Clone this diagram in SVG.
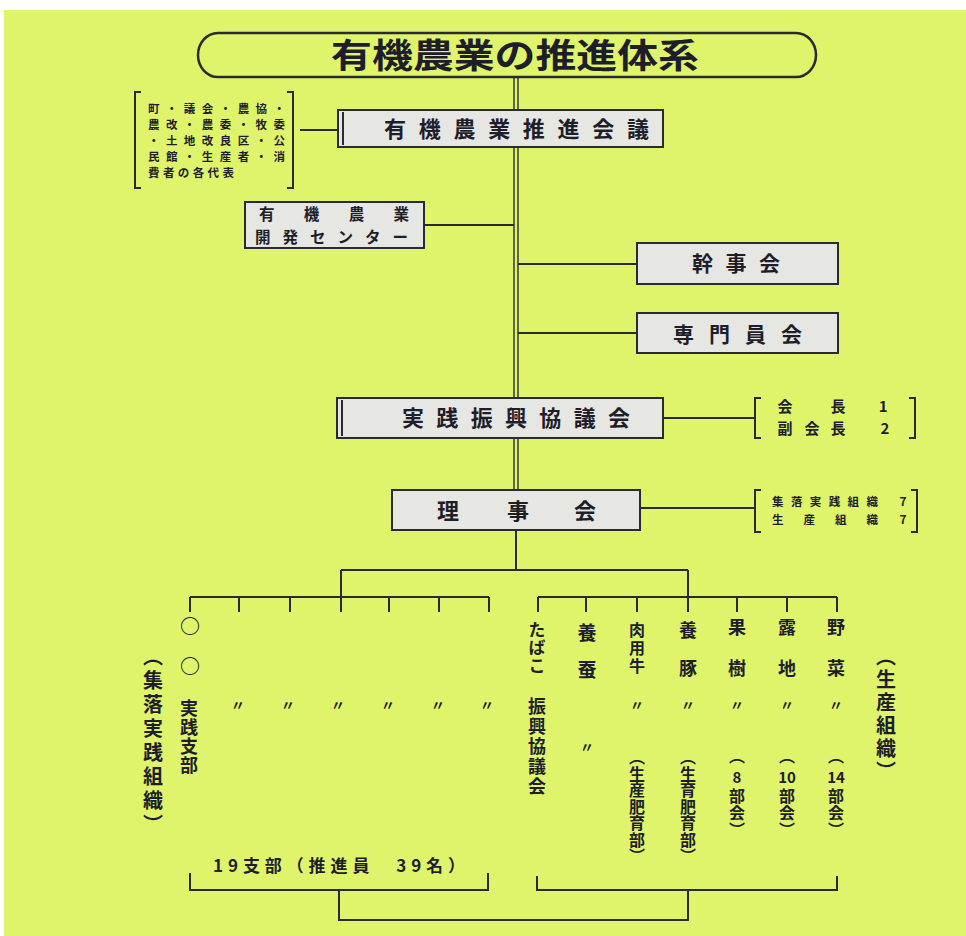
<svg xmlns="http://www.w3.org/2000/svg" width="966" height="936" viewBox="0 0 966 936">
<style>
.bg{fill:#dff46a}
.box{fill:#e6e6e2;stroke:#2a2a33;stroke-width:2}
.ln{fill:none;stroke:#2a2a33;stroke-width:2}
.thin{fill:none;stroke:#2a2a33;stroke-width:1.4}
.t{font-family:"Noto Sans CJK JP","Noto Sans CJK SC",sans-serif;font-weight:700;fill:#1e1e2a}
.c{text-anchor:middle}
.v{writing-mode:vertical-rl;text-anchor:start}
</style>
<rect x="0" y="0" width="966" height="936" fill="#ffffff"/>
<rect class="bg" x="4" y="10" width="962" height="926"/>

<g id="connectors">
  <line class="thin" x1="514" y1="77" x2="514" y2="110"/>
  <line class="thin" x1="518" y1="77" x2="518" y2="110"/>
  <line class="thin" x1="514" y1="147" x2="514" y2="398"/>
  <line class="thin" x1="518" y1="147" x2="518" y2="398"/>
  <line class="thin" x1="514" y1="438" x2="514" y2="490"/>
  <line class="thin" x1="518" y1="438" x2="518" y2="490"/>
  <line class="ln" x1="516" y1="530" x2="516" y2="570" stroke-width="2.5"/>
  <line class="ln" x1="300" y1="130" x2="338" y2="130"/>
  <line class="ln" x1="424" y1="225" x2="514" y2="225"/>
  <line class="ln" x1="518" y1="264" x2="637" y2="264"/>
  <line class="ln" x1="518" y1="333" x2="637" y2="333"/>
  <line class="ln" x1="663" y1="418" x2="755" y2="418"/>
  <line class="ln" x1="640" y1="508" x2="755" y2="508"/>
  <path class="ln" d="M341 570 H688 M341 570 V612 M688 570 V612"/>
  <path class="ln" d="M190 597 H489 M190 597 V612 M239 597 V612 M290 597 V612 M389 597 V612 M439 597 V612 M489 597 V612"/>
  <path class="ln" d="M538 597 H837 M538 597 V612 M586 597 V612 M637 597 V612 M737 597 V612 M787 597 V612 M837 597 V612"/>
  <path class="ln" d="M190 873 V890 H488 V873"/>
  <path class="ln" d="M537 876 V890 H837 V876"/>
  <path class="ln" d="M339 890 V920 H688 V890"/>
</g>

<g id="title">
  <rect x="198" y="33" width="618" height="44" rx="20" ry="22" fill="none" stroke="#2a2a33" stroke-width="2.5"/>
  <text class="t" x="331" y="68" font-size="34" textLength="368" lengthAdjust="spacingAndGlyphs">有機農業の推進体系</text>
</g>

<g id="representatives">
  <path class="ln" d="M141 92 H135 V188 H141 M287 92 H293 V188 H287"/>
  <text class="t" font-size="11.5">
    <tspan x="148" y="113" textLength="137" lengthAdjust="spacing">町・議会・農協・</tspan>
    <tspan x="148" y="129" textLength="137" lengthAdjust="spacing">農改・農委・牧委</tspan>
    <tspan x="148" y="145" textLength="137" lengthAdjust="spacing">・土地改良区・公</tspan>
    <tspan x="148" y="161" textLength="137" lengthAdjust="spacing">民館・生産者・消</tspan>
    <tspan x="148" y="177" textLength="86" lengthAdjust="spacing">費者の各代表</tspan>
  </text>
</g>

<g id="council">
  <rect class="box" x="338" y="110" width="325" height="37"/>
  <line class="ln" x1="343" y1="112" x2="343" y2="145"/>
  <text class="t" x="384" y="137" font-size="22" textLength="265" lengthAdjust="spacing">有機農業推進会議</text>
</g>

<g id="center">
  <rect class="box" x="245" y="202" width="179" height="46"/>
  <text class="t" x="259" y="220" font-size="15.5" textLength="150" lengthAdjust="spacing">有機農業</text>
  <text class="t" x="255" y="243" font-size="15.5" textLength="153" lengthAdjust="spacing">開発センター</text>
</g>

<g id="kanjikai">
  <rect class="box" x="637" y="243" width="201" height="41"/>
  <text class="t" x="692" y="271" font-size="21" textLength="88" lengthAdjust="spacing">幹事会</text>
</g>

<g id="senmon">
  <rect class="box" x="637" y="313" width="201" height="40"/>
  <text class="t" x="673" y="342" font-size="21" textLength="129" lengthAdjust="spacing">専門員会</text>
</g>

<g id="jissen">
  <rect class="box" x="337" y="398" width="326" height="40"/>
  <line class="ln" x1="342" y1="400" x2="342" y2="436"/>
  <text class="t" x="402" y="426" font-size="22" textLength="228" lengthAdjust="spacing">実践振興協議会</text>
</g>

<g id="officers">
  <path class="ln" d="M761 398 H755 V438 H761 M909 398 H915 V438 H909"/>
  <text class="t c" font-size="15">
    <tspan x="785" y="412">会</tspan><tspan x="838" y="412">長</tspan><tspan x="885" y="412">1</tspan>
    <tspan x="785" y="434">副</tspan><tspan x="812" y="434">会</tspan><tspan x="838" y="434">長</tspan><tspan x="885" y="434">2</tspan>
  </text>
</g>

<g id="rijikai">
  <rect class="box" x="392" y="490" width="248" height="40"/>
  <text class="t c" font-size="22"><tspan x="448" y="519">理</tspan><tspan x="518" y="519">事</tspan><tspan x="585" y="519">会</tspan></text>
</g>

<g id="members">
  <path class="ln" d="M761 490 H755 V532 H761 M911 490 H917 V532 H911"/>
  <text class="t" font-size="11.5">
    <tspan x="772" y="506" textLength="106" lengthAdjust="spacing">集落実践組織</tspan>
    <tspan x="772" y="524" textLength="106" lengthAdjust="spacing">生産組織</tspan>
  </text>
  <text class="t c" font-size="12"><tspan x="903" y="506">7</tspan><tspan x="903" y="524">7</tspan></text>
</g>

<g id="settlement-label">
  <text class="t v" x="153" y="646" font-size="20" letter-spacing="4">（集落実践組織）</text>
</g>

<g id="branches">
  <text class="t c" x="190" y="634" font-size="20" font-weight="400">○</text>
  <text class="t c" x="190" y="674" font-size="20" font-weight="400">○</text>
  <text class="t v" x="189" y="699" font-size="18" letter-spacing="1">実践支部</text>
  <text class="t c" x="238" y="710" font-size="14">〃</text>
  <text class="t c" x="288" y="710" font-size="14">〃</text>
  <text class="t c" x="338" y="710" font-size="14">〃</text>
  <text class="t c" x="388" y="710" font-size="14">〃</text>
  <text class="t c" x="438" y="710" font-size="14">〃</text>
  <text class="t c" x="487" y="710" font-size="14">〃</text>
  <text class="t c" x="339" y="872" font-size="17" textLength="252" lengthAdjust="spacing">19支部（推進員　39名）</text>
</g>

<g id="tobacco">
  <text class="t v" x="537" y="621" font-size="17" letter-spacing="1">たばこ</text>
  <text class="t v" x="537" y="697" font-size="18" letter-spacing="2">振興協議会</text>
</g>

<g id="sericulture">
  <text class="t c" x="587" y="640" font-size="19">養</text>
  <text class="t c" x="587" y="677" font-size="19">蚕</text>
  <text class="t c" x="587" y="752" font-size="14">〃</text>
</g>

<g id="beef">
  <text class="t v" x="637" y="622" font-size="16" letter-spacing="2">肉用牛</text>
  <text class="t c" x="637" y="710" font-size="14">〃</text>
  <text class="t v" x="637" y="749" font-size="16" letter-spacing="0.5">（生産肥育部）</text>
</g>

<g id="pork">
  <text class="t c" x="688" y="637" font-size="18">養</text>
  <text class="t c" x="688" y="675" font-size="18">豚</text>
  <text class="t c" x="688" y="710" font-size="14">〃</text>
  <text class="t v" x="688" y="749" font-size="16" letter-spacing="0.5">（生育肥育部）</text>
</g>

<g id="fruit">
  <text class="t c" x="737" y="634" font-size="18">果</text>
  <text class="t c" x="737" y="675" font-size="18">樹</text>
  <text class="t c" x="737" y="710" font-size="14">〃</text>
  <text class="t v" x="737" y="748" font-size="16">（</text>
  <text class="t c" x="737" y="783" font-size="15">8</text>
  <text class="t v" x="737" y="788" font-size="16" letter-spacing="1">部会）</text>
</g>

<g id="openfield">
  <text class="t c" x="787" y="634" font-size="18">露</text>
  <text class="t c" x="787" y="675" font-size="18">地</text>
  <text class="t c" x="787" y="710" font-size="14">〃</text>
  <text class="t v" x="787" y="748" font-size="16">（</text>
  <text class="t c" x="787" y="783" font-size="15">10</text>
  <text class="t v" x="787" y="788" font-size="16" letter-spacing="1">部会）</text>
</g>

<g id="vegetables">
  <text class="t c" x="836" y="634" font-size="18">野</text>
  <text class="t c" x="836" y="675" font-size="18">菜</text>
  <text class="t c" x="836" y="710" font-size="14">〃</text>
  <text class="t v" x="836" y="748" font-size="16">（</text>
  <text class="t c" x="836" y="783" font-size="15">14</text>
  <text class="t v" x="836" y="788" font-size="16" letter-spacing="1">部会）</text>
</g>

<g id="production-label">
  <text class="t v" x="886" y="646" font-size="20" letter-spacing="3">（生産組織）</text>
</g>
</svg>
